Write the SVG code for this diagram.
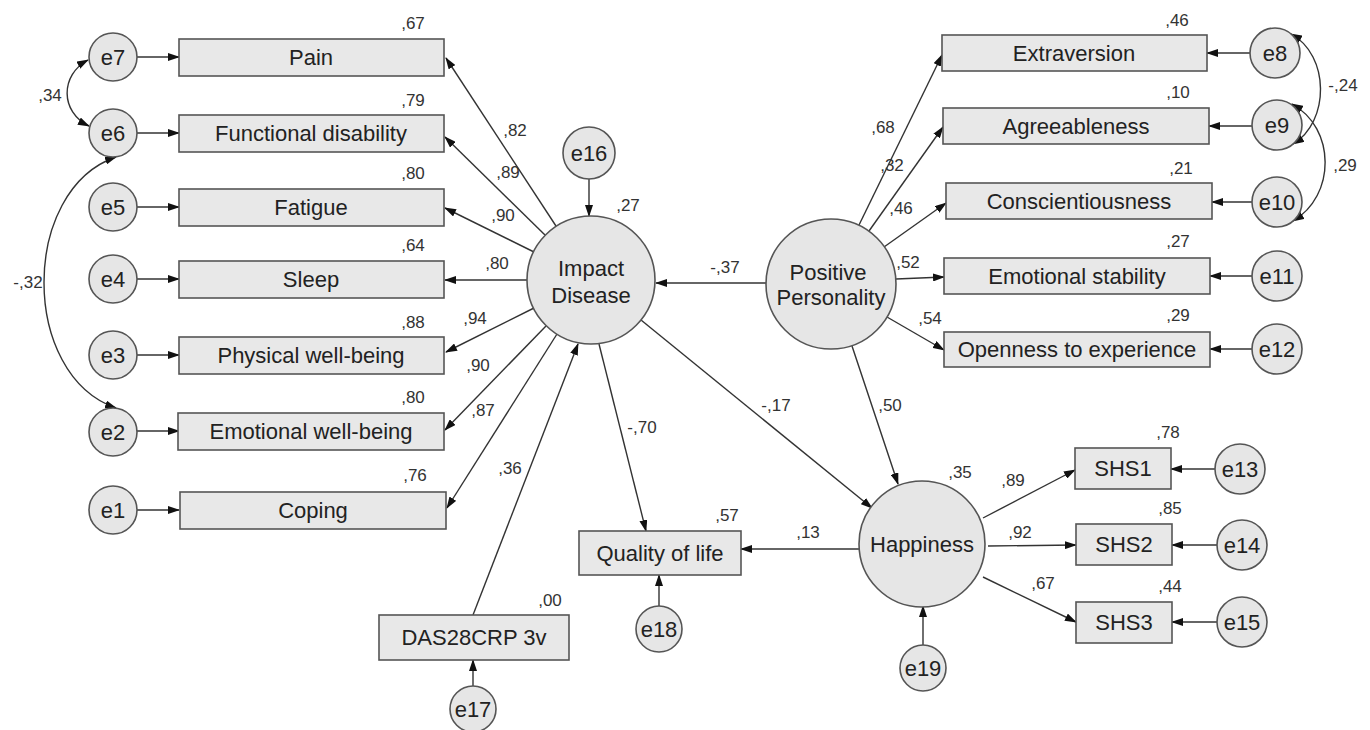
<svg xmlns="http://www.w3.org/2000/svg" width="1370" height="730" viewBox="0 0 1370 730">
<defs>
<marker id="ah" markerUnits="userSpaceOnUse" markerWidth="12" markerHeight="8" refX="11" refY="4" orient="auto">
<path d="M0,0 L12,4 L0,8 z" fill="#111"/>
</marker>
<marker id="ahs" markerUnits="userSpaceOnUse" markerWidth="12" markerHeight="8" refX="1" refY="4" orient="auto">
<path d="M12,0 L0,4 L12,8 z" fill="#111"/>
</marker>
<style>
.box{fill:#e8e8e8;stroke:#555;stroke-width:1.6}
.circ{fill:#e6e6e6;stroke:#555;stroke-width:1.6}
.t{font-family:"Liberation Sans",Arial,sans-serif;font-size:22px;fill:#222;text-anchor:middle}
.n{font-family:"Liberation Sans",Arial,sans-serif;font-size:17px;fill:#333;text-anchor:middle}
.c line,.c path{stroke:#333;stroke-width:1.4;fill:none;marker-end:url(#ah)}
.c .cov{marker-start:url(#ahs)}
</style>
</defs>
<rect width="1370" height="730" fill="#fff"/>

<g id="connectors" class="c">
<!-- error to indicators (left) -->
<line x1="137" y1="57" x2="179" y2="57"/>
<line x1="137" y1="133" x2="179" y2="133"/>
<line x1="137" y1="207" x2="179" y2="207"/>
<line x1="137" y1="279" x2="179" y2="279"/>
<line x1="137" y1="355" x2="179" y2="355"/>
<line x1="137" y1="431" x2="179" y2="431"/>
<line x1="137" y1="510" x2="179" y2="510"/>
<!-- covariances left -->
<path class="cov" d="M89,126 C60,112 60,75 88,60"/>
<path class="cov" d="M116,408 C20,375 20,190 116,157"/>
<!-- Impact to indicators -->
<line x1="556" y1="226" x2="446" y2="58"/>
<line x1="545" y1="235" x2="445" y2="137"/>
<line x1="534" y1="252" x2="445" y2="208"/>
<line x1="527" y1="280" x2="445" y2="280"/>
<line x1="534" y1="308" x2="446" y2="352"/>
<line x1="546" y1="326" x2="445" y2="430"/>
<line x1="557" y1="334" x2="447" y2="508"/>
<!-- e16 -->
<line x1="589" y1="179" x2="589" y2="216"/>
<!-- DAS to Impact -->
<line x1="473" y1="615" x2="578" y2="344"/>
<!-- Impact to Quality -->
<line x1="599" y1="344" x2="646" y2="531"/>
<!-- Impact to Happiness -->
<line x1="641" y1="320" x2="872" y2="508"/>
<!-- PP to Impact -->
<line x1="766" y1="283" x2="656" y2="283"/>
<!-- PP to indicators -->
<line x1="859" y1="225" x2="942" y2="55"/>
<line x1="869" y1="231" x2="943" y2="127"/>
<line x1="884" y1="247" x2="946" y2="203"/>
<line x1="896" y1="279" x2="944" y2="277"/>
<line x1="887" y1="317" x2="944" y2="350"/>
<!-- PP to Happiness -->
<line x1="852" y1="346" x2="898" y2="484"/>
<!-- e to right indicators -->
<line x1="1250" y1="53" x2="1207" y2="53"/>
<line x1="1252" y1="126" x2="1209" y2="126"/>
<line x1="1252" y1="202" x2="1212" y2="202"/>
<line x1="1252" y1="276" x2="1210" y2="276"/>
<line x1="1252" y1="349" x2="1210" y2="349"/>
<!-- covariances right -->
<path class="cov" d="M1291,34 C1330,55 1330,122 1293,144"/>
<path class="cov" d="M1292,104 C1336,128 1336,196 1293,221"/>
<!-- Happiness to Quality -->
<line x1="859" y1="549" x2="741" y2="549"/>
<!-- Happiness to SHS -->
<line x1="983" y1="518" x2="1075" y2="470"/>
<line x1="988" y1="546" x2="1076" y2="545"/>
<line x1="983" y1="577" x2="1076" y2="622"/>
<!-- e to SHS -->
<line x1="1215" y1="469" x2="1171" y2="469"/>
<line x1="1217" y1="545" x2="1172" y2="545"/>
<line x1="1217" y1="622" x2="1172" y2="622"/>
<!-- e17, e18, e19 -->
<line x1="473" y1="686" x2="473" y2="660"/>
<line x1="659" y1="606" x2="659" y2="575"/>
<line x1="923" y1="645" x2="923" y2="606"/>
</g>

<g id="connector-labels">
<text class="n" x="50" y="101">,34</text>
<text class="n" x="28" y="288">-,32</text>
<text class="n" x="515" y="136">,82</text>
<text class="n" x="508" y="178">,89</text>
<text class="n" x="503" y="221">,90</text>
<text class="n" x="497" y="269">,80</text>
<text class="n" x="475" y="324">,94</text>
<text class="n" x="478" y="371">,90</text>
<text class="n" x="483" y="416">,87</text>
<text class="n" x="510" y="474">,36</text>
<text class="n" x="642" y="433">-,70</text>
<text class="n" x="725" y="273">-,37</text>
<text class="n" x="776" y="411">-,17</text>
<text class="n" x="883" y="133">,68</text>
<text class="n" x="892" y="171">,32</text>
<text class="n" x="901" y="214">,46</text>
<text class="n" x="908" y="268">,52</text>
<text class="n" x="930" y="324">,54</text>
<text class="n" x="890" y="411">,50</text>
<text class="n" x="808" y="538">,13</text>
<text class="n" x="1013" y="486">,89</text>
<text class="n" x="1020" y="538">,92</text>
<text class="n" x="1043" y="589">,67</text>
<text class="n" x="1343" y="91">-,24</text>
<text class="n" x="1345" y="171">,29</text>
</g>

<g id="e7"><circle class="circ" cx="113" cy="57" r="24"/><text class="t" x="113" y="65">e7</text></g>
<g id="e6"><circle class="circ" cx="113" cy="133" r="24"/><text class="t" x="113" y="141">e6</text></g>
<g id="e5"><circle class="circ" cx="113" cy="207" r="24"/><text class="t" x="113" y="215">e5</text></g>
<g id="e4"><circle class="circ" cx="113" cy="279" r="24"/><text class="t" x="113" y="287">e4</text></g>
<g id="e3"><circle class="circ" cx="113" cy="355" r="24"/><text class="t" x="113" y="363">e3</text></g>
<g id="e2"><circle class="circ" cx="113" cy="432" r="24"/><text class="t" x="113" y="440">e2</text></g>
<g id="e1"><circle class="circ" cx="113" cy="510" r="24"/><text class="t" x="113" y="518">e1</text></g>

<g id="pain"><rect class="box" x="179" y="39" width="265" height="37"/><text class="t" x="311" y="65">Pain</text><text class="n" x="413" y="29">,67</text></g>
<g id="functional"><rect class="box" x="179" y="115" width="265" height="37"/><text class="t" x="311" y="141">Functional disability</text><text class="n" x="413" y="106">,79</text></g>
<g id="fatigue"><rect class="box" x="179" y="189" width="265" height="37"/><text class="t" x="311" y="215">Fatigue</text><text class="n" x="413" y="179">,80</text></g>
<g id="sleep"><rect class="box" x="179" y="261" width="265" height="37"/><text class="t" x="311" y="287">Sleep</text><text class="n" x="413" y="251">,64</text></g>
<g id="physical"><rect class="box" x="179" y="337" width="265" height="37"/><text class="t" x="311" y="363">Physical well-being</text><text class="n" x="413" y="328">,88</text></g>
<g id="emotional"><rect class="box" x="178" y="413" width="266" height="37"/><text class="t" x="311" y="439">Emotional well-being</text><text class="n" x="413" y="403">,80</text></g>
<g id="coping"><rect class="box" x="180" y="492" width="266" height="37"/><text class="t" x="313" y="518">Coping</text><text class="n" x="415" y="481">,76</text></g>

<g id="e16"><circle class="circ" cx="589" cy="153" r="26"/><text class="t" x="589" y="161">e16</text></g>
<g id="impact"><circle class="circ" cx="591" cy="280" r="64"/><text class="t" x="591" y="276">Impact</text><text class="t" x="591" y="303">Disease</text><text class="n" x="628" y="211">,27</text></g>

<g id="personality"><circle class="circ" cx="831" cy="284" r="65"/><text class="t" x="828" y="280">Positive</text><text class="t" x="831" y="305">Personality</text></g>

<g id="extraversion"><rect class="box" x="942" y="35" width="265" height="36"/><text class="t" x="1074" y="61">Extraversion</text><text class="n" x="1177" y="26">,46</text></g>
<g id="agreeableness"><rect class="box" x="943" y="108" width="266" height="36"/><text class="t" x="1076" y="134">Agreeableness</text><text class="n" x="1178" y="98">,10</text></g>
<g id="conscientiousness"><rect class="box" x="946" y="183" width="266" height="36"/><text class="t" x="1079" y="209">Conscientiousness</text><text class="n" x="1181" y="174">,21</text></g>
<g id="stability"><rect class="box" x="944" y="258" width="266" height="36"/><text class="t" x="1077" y="284">Emotional stability</text><text class="n" x="1178" y="247">,27</text></g>
<g id="openness"><rect class="box" x="944" y="332" width="266" height="35"/><text class="t" x="1077" y="357">Openness to experience</text><text class="n" x="1178" y="321">,29</text></g>

<g id="e8"><circle class="circ" cx="1275" cy="53" r="25"/><text class="t" x="1275" y="61">e8</text></g>
<g id="e9"><circle class="circ" cx="1277" cy="125" r="25"/><text class="t" x="1277" y="133">e9</text></g>
<g id="e10"><circle class="circ" cx="1277" cy="202" r="25"/><text class="t" x="1277" y="210">e10</text></g>
<g id="e11"><circle class="circ" cx="1277" cy="276" r="25"/><text class="t" x="1277" y="284">e11</text></g>
<g id="e12"><circle class="circ" cx="1277" cy="349" r="25"/><text class="t" x="1277" y="357">e12</text></g>

<g id="happiness"><circle class="circ" cx="922" cy="544" r="63"/><text class="t" x="922" y="552">Happiness</text><text class="n" x="960" y="478">,35</text></g>
<g id="e19"><circle class="circ" cx="923" cy="668" r="23"/><text class="t" x="923" y="676">e19</text></g>

<g id="shs1"><rect class="box" x="1075" y="448" width="96" height="41"/><text class="t" x="1123" y="476">SHS1</text><text class="n" x="1168" y="438">,78</text></g>
<g id="shs2"><rect class="box" x="1076" y="524" width="96" height="41"/><text class="t" x="1124" y="552">SHS2</text><text class="n" x="1170" y="514">,85</text></g>
<g id="shs3"><rect class="box" x="1076" y="602" width="96" height="41"/><text class="t" x="1124" y="630">SHS3</text><text class="n" x="1170" y="592">,44</text></g>
<g id="e13"><circle class="circ" cx="1240" cy="469" r="25"/><text class="t" x="1240" y="477">e13</text></g>
<g id="e14"><circle class="circ" cx="1242" cy="545" r="25"/><text class="t" x="1242" y="553">e14</text></g>
<g id="e15"><circle class="circ" cx="1242" cy="622" r="25"/><text class="t" x="1242" y="630">e15</text></g>

<g id="quality"><rect class="box" x="579" y="531" width="162" height="44"/><text class="t" x="660" y="561">Quality of life</text><text class="n" x="727" y="521">,57</text></g>
<g id="e18"><circle class="circ" cx="659" cy="629" r="23"/><text class="t" x="659" y="637">e18</text></g>

<g id="das"><rect class="box" x="379" y="615" width="190" height="45"/><text class="t" x="474" y="645">DAS28CRP 3v</text><text class="n" x="550" y="606">,00</text></g>
<g id="e17"><circle class="circ" cx="473" cy="709" r="23"/><text class="t" x="473" y="717">e17</text></g>
</svg>
